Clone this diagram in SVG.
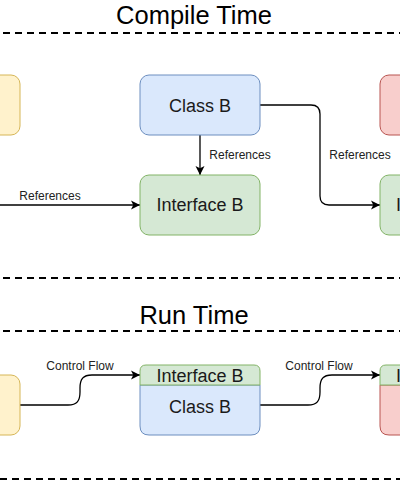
<svg xmlns="http://www.w3.org/2000/svg" width="400" height="482" viewBox="0 0 400 482">
<defs>
<style>
text{font-family:"Liberation Sans",Arial,Helvetica,sans-serif;fill:#000}
.title{font-size:25.5px;text-anchor:middle}
.node{font-size:18px;text-anchor:middle;fill:#1a1a1a}
.lbl{font-size:12px;text-anchor:middle;fill:#222}
.dash{stroke:#000;stroke-width:2;stroke-dasharray:7 5;fill:none}
.edge{stroke:#000;stroke-width:1.3;fill:none}
.y{fill:#fff2cc;stroke:#d6b656}
.b{fill:#dae8fc;stroke:#6c8ebf}
.g{fill:#d5e8d4;stroke:#82b366}
.r{fill:#f8cecc;stroke:#b85450}
</style>
<marker id="arr" markerUnits="userSpaceOnUse" markerWidth="10" markerHeight="10" refX="9" refY="4.5" orient="auto" viewBox="0 0 10 9">
<path d="M0,0 L9,4.5 L0,9 L2.25,4.5 Z" fill="#000"/>
</marker>
</defs>

<g id="section-lines">
<line class="dash" x1="3" y1="33" x2="400" y2="33"/>
<line class="dash" x1="3" y1="278" x2="400" y2="278"/>
<line class="dash" x1="3" y1="331" x2="400" y2="331"/>
<line class="dash" x1="0" y1="479" x2="400" y2="479"/>
<text class="title" x="194" y="24">Compile Time</text>
<text class="title" x="194" y="324">Run Time</text>
</g>

<g id="connectors">
<path class="edge" d="M200,135 V175" marker-end="url(#arr)"/>
<path class="edge" d="M-10,205 H140" marker-end="url(#arr)"/>
<path class="edge" d="M260,105 H311 Q320,105 320,114 V196 Q320,205 329,205 H380" marker-end="url(#arr)"/>
<path class="edge" d="M20,405 H68 C77,405 80,401 80,392 V388 C80,379 83,375 92,375 H140" marker-end="url(#arr)"/>
<path class="edge" d="M260,405 H308 C317,405 320,401 320,392 V388 C320,379 323,375 332,375 H380" marker-end="url(#arr)"/>
<text class="lbl" x="240" y="159">References</text>
<text class="lbl" x="360" y="159">References</text>
<text class="lbl" x="50" y="200">References</text>
<text class="lbl" x="80" y="370">Control Flow</text>
<text class="lbl" x="319" y="370">Control Flow</text>
</g>

<g id="ct-classA">
<rect class="y" x="-100" y="75" width="120" height="60" rx="9"/>
</g>
<g id="ct-classB">
<rect class="b" x="140" y="75" width="120" height="60" rx="9"/>
<text class="node" x="200" y="111.5">Class B</text>
</g>
<g id="ct-classC">
<rect class="r" x="380" y="75" width="120" height="60" rx="9"/>
</g>
<g id="ct-interfaceB">
<rect class="g" x="140" y="175" width="120" height="60" rx="9"/>
<text class="node" x="200" y="211">Interface B</text>
</g>
<g id="ct-interfaceC">
<rect class="g" x="380" y="175" width="120" height="60" rx="9"/>
<text class="node" x="440" y="211">Interface C</text>
</g>

<g id="rt-classA">
<rect class="y" x="-100" y="375" width="120" height="60" rx="9"/>
</g>
<g id="rt-classB">
<path class="b" d="M140,385 H260 V426 Q260,435 251,435 H149 Q140,435 140,426 Z"/>
<path class="g" d="M140,385 V371 Q140,365 146,365 H254 Q260,365 260,371 V385 Z"/>
<text class="node" x="200" y="381.5">Interface B</text>
<text class="node" x="200" y="412.5">Class B</text>
</g>
<g id="rt-classC">
<path class="r" d="M380,385 H500 V426 Q500,435 491,435 H389 Q380,435 380,426 Z"/>
<path class="g" d="M380,385 V371 Q380,365 386,365 H494 Q500,365 500,371 V385 Z"/>
<text class="node" x="440" y="381.5">Interface C</text>
</g>
</svg>
